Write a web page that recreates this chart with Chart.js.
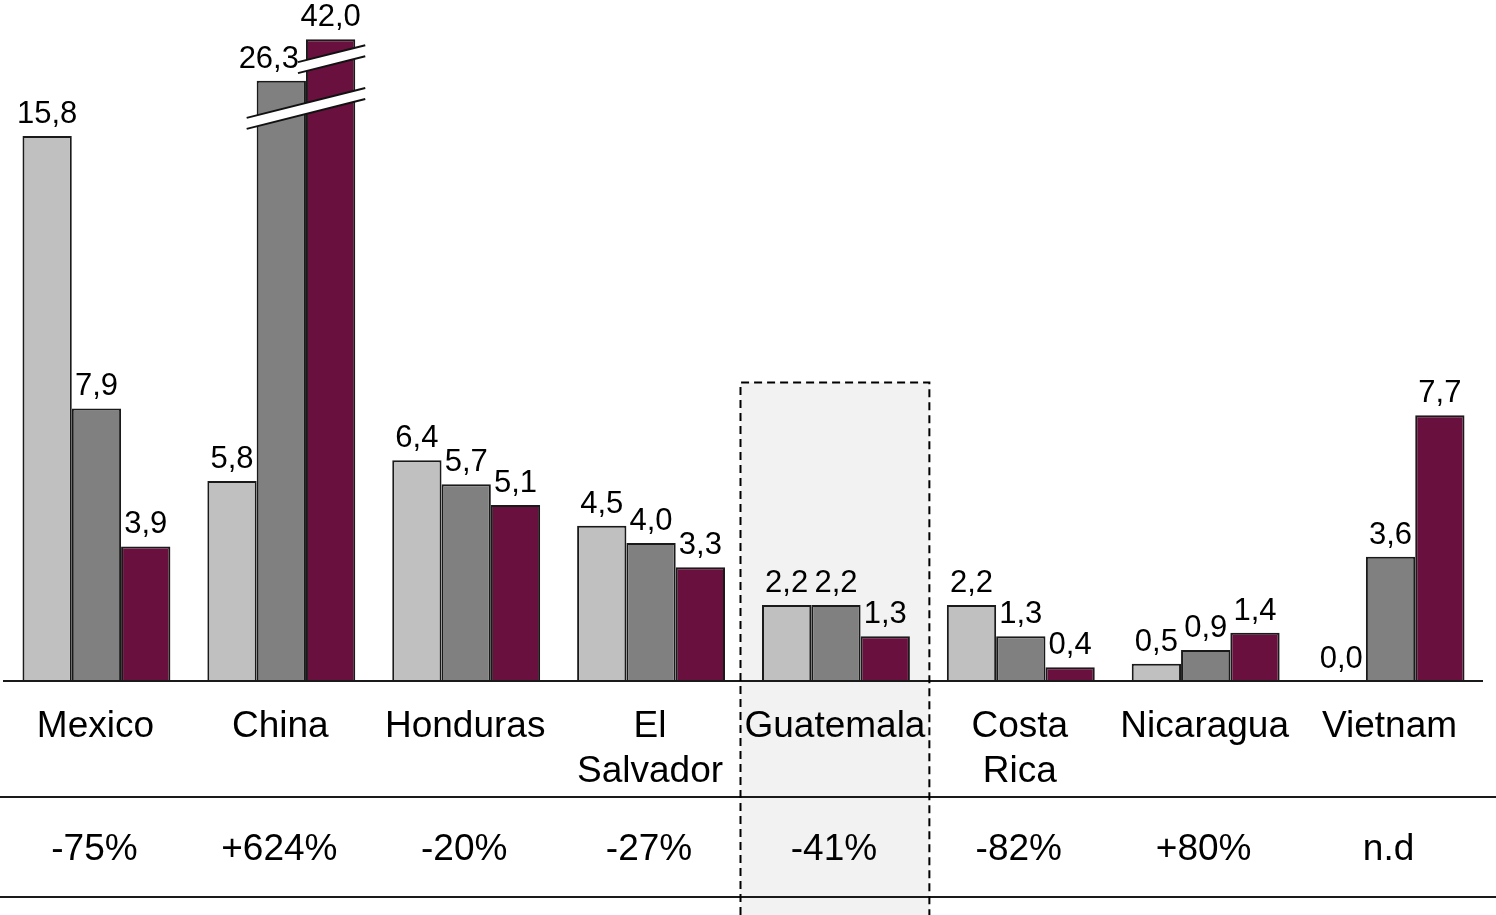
<!DOCTYPE html>
<html>
<head>
<meta charset="utf-8">
<script src="https://cdn.jsdelivr.net/npm/chart.js@4"></script>
<style>
  body { margin: 0; background: #fff; }
  canvas { display: block; }
</style>
</head>
<body>
<canvas id="exportChart" width="1496" height="915"></canvas>
<script>
// Grouped bars per country, with a broken axis for China and a row of changes below
const countries = ['Mexico', 'China', 'Honduras', ['El', 'Salvador'], 'Guatemala', ['Costa', 'Rica'], 'Nicaragua', 'Vietnam'];
const lightValues = [15.8, 5.8, 6.4, 4.5, 2.2, 2.2, 0.5, 0.0];
const darkValues = [7.9, 26.3, 5.7, 4.0, 2.2, 1.3, 0.9, 3.6];
const maroonValues = [3.9, 42.0, 5.1, 3.3, 1.3, 0.4, 1.4, 7.7];
const changes = ['-75%', '+624%', '-20%', '-27%', '-41%', '-82%', '+80%', 'n.d'];

const yMax = 19.74;
// shown heights of bars that go past the axis break (dark, maroon)
const cutHeights = [17.4, 18.6];
const highlighted = 4; // Guatemala

const FONT = '"Liberation Sans", Arial, sans-serif';
const colors = ['#c0c0c0', '#808080', '#69103e'];

function shown(values, cut) {
  return values.map(v => v > yMax ? cut : v);
}

const fmt = v => v.toFixed(1).replace('.', ',');

const decorations = {
  id: 'decorations',
  beforeDatasetsDraw(chart) {
    const { ctx, scales: { x, y } } = chart;
    const step = x.getPixelForValue(1) - x.getPixelForValue(0);
    const cx = x.getPixelForValue(highlighted);
    const left = cx - step / 2 - 3;
    const right = cx + step / 2 + 1;
    const top = y.getPixelForValue(8.65);
    ctx.save();
    ctx.fillStyle = '#f2f2f2';
    ctx.fillRect(left, top, right - left, chart.height - top);
    ctx.restore();
  },
  afterDatasetsDraw(chart) {
    const { ctx, chartArea, scales: { x, y } } = chart;
    const base = y.getPixelForValue(0);

    // baseline
    ctx.save();
    ctx.strokeStyle = '#1a1a1a';
    ctx.lineWidth = 2;
    ctx.beginPath();
    ctx.moveTo(chartArea.left - 1, base);
    ctx.lineTo(chartArea.right, base);
    ctx.stroke();

    // axis break marks across China's tall bars
    const metaDark = chart.getDatasetMeta(1).data[1];
    const metaMaroon = chart.getDatasetMeta(2).data[1];
    const xEnd = metaMaroon.x + metaMaroon.width / 2 + 10;
    const slope = 0.252;
    const gap = 11;
    const breaks = [
      { from: metaDark.x - metaDark.width / 2 - 10, at: 17.19 },
      { from: metaMaroon.x - metaMaroon.width / 2 - 8, at: 18.43 }
    ];
    breaks.forEach(b => {
      const yR = y.getPixelForValue(b.at);
      const yL = yR + (xEnd - b.from) * slope;
      ctx.fillStyle = '#fff';
      ctx.beginPath();
      ctx.moveTo(b.from, yL);
      ctx.lineTo(xEnd, yR);
      ctx.lineTo(xEnd, yR + gap);
      ctx.lineTo(b.from, yL + gap);
      ctx.closePath();
      ctx.fill();
      ctx.strokeStyle = '#111';
      ctx.lineWidth = 2;
      ctx.beginPath();
      ctx.moveTo(b.from, yL);
      ctx.lineTo(xEnd, yR);
      ctx.moveTo(b.from, yL + gap);
      ctx.lineTo(xEnd, yR + gap);
      ctx.stroke();
    });

    // value labels
    const all = [lightValues, darkValues, maroonValues];
    ctx.font = '31px ' + FONT;
    ctx.fillStyle = '#000';
    ctx.textAlign = 'center';
    ctx.textBaseline = 'alphabetic';
    all.forEach((vals, d) => {
      const meta = chart.getDatasetMeta(d);
      meta.data.forEach((bar, i) => {
        const txt = fmt(vals[i]);
        let lx = bar.x;
        const w = ctx.measureText(txt).width;
        if (d < 2) {
          const nb = chart.getDatasetMeta(d + 1).data[i];
          const nLeft = nb.x - nb.width / 2;
          if (nb.y < bar.y - 5 && lx + w / 2 > nLeft) lx = nLeft - 7 - w / 2;
        }
        ctx.fillText(txt, lx, bar.y - 13);
      });
    });
    ctx.restore();
  },
  afterDraw(chart) {
    const { ctx, scales: { x, y } } = chart;
    const step = x.getPixelForValue(1) - x.getPixelForValue(0);
    ctx.save();

    // category labels
    ctx.font = '37px ' + FONT;
    ctx.fillStyle = '#000';
    ctx.textAlign = 'center';
    ctx.textBaseline = 'middle';
    countries.forEach((c, i) => {
      const lines = Array.isArray(c) ? c : [c];
      const cx = x.getPixelForValue(i) - 1;
      lines.forEach((ln, k) => ctx.fillText(ln, cx, 727 + k * 45));
    });

    // table rules
    ctx.strokeStyle = '#1a1a1a';
    ctx.lineWidth = 2;
    ctx.beginPath();
    ctx.moveTo(0, 797); ctx.lineTo(chart.width, 797);
    ctx.moveTo(0, 897); ctx.lineTo(chart.width, 897);
    ctx.stroke();

    // change row
    changes.forEach((c, i) => ctx.fillText(c, x.getPixelForValue(i) - 2, 850));

    // dashed highlight box
    const cx = x.getPixelForValue(highlighted);
    const left = cx - step / 2 - 3;
    const right = cx + step / 2 + 1;
    const top = y.getPixelForValue(8.65);
    ctx.setLineDash([8, 5]);
    ctx.lineWidth = 2;
    ctx.strokeStyle = '#000';
    ctx.beginPath();
    ctx.moveTo(left, chart.height);
    ctx.lineTo(left, top);
    ctx.lineTo(right, top);
    ctx.lineTo(right, chart.height);
    ctx.stroke();
    ctx.restore();
  }
};

new Chart(document.getElementById('exportChart').getContext('2d'), {
  type: 'bar',
  data: {
    labels: countries,
    datasets: [
      { data: shown(lightValues, yMax), backgroundColor: colors[0] },
      { data: shown(darkValues, cutHeights[0]), backgroundColor: colors[1] },
      { data: shown(maroonValues, cutHeights[1]), backgroundColor: colors[2] }
    ].map(ds => Object.assign(ds, {
      borderColor: '#1a1a1a',
      borderWidth: 2,
      categoryPercentage: 0.8,
      barPercentage: 1.0
    }))
  },
  options: {
    responsive: false,
    animation: false,
    layout: { padding: { left: 4, right: 13, top: 0, bottom: 234 } },
    scales: {
      x: { display: false },
      y: { display: false, min: 0, max: yMax }
    },
    plugins: {
      legend: { display: false },
      tooltip: { enabled: false }
    }
  },
  plugins: [decorations]
});
</script>
</body>
</html>
